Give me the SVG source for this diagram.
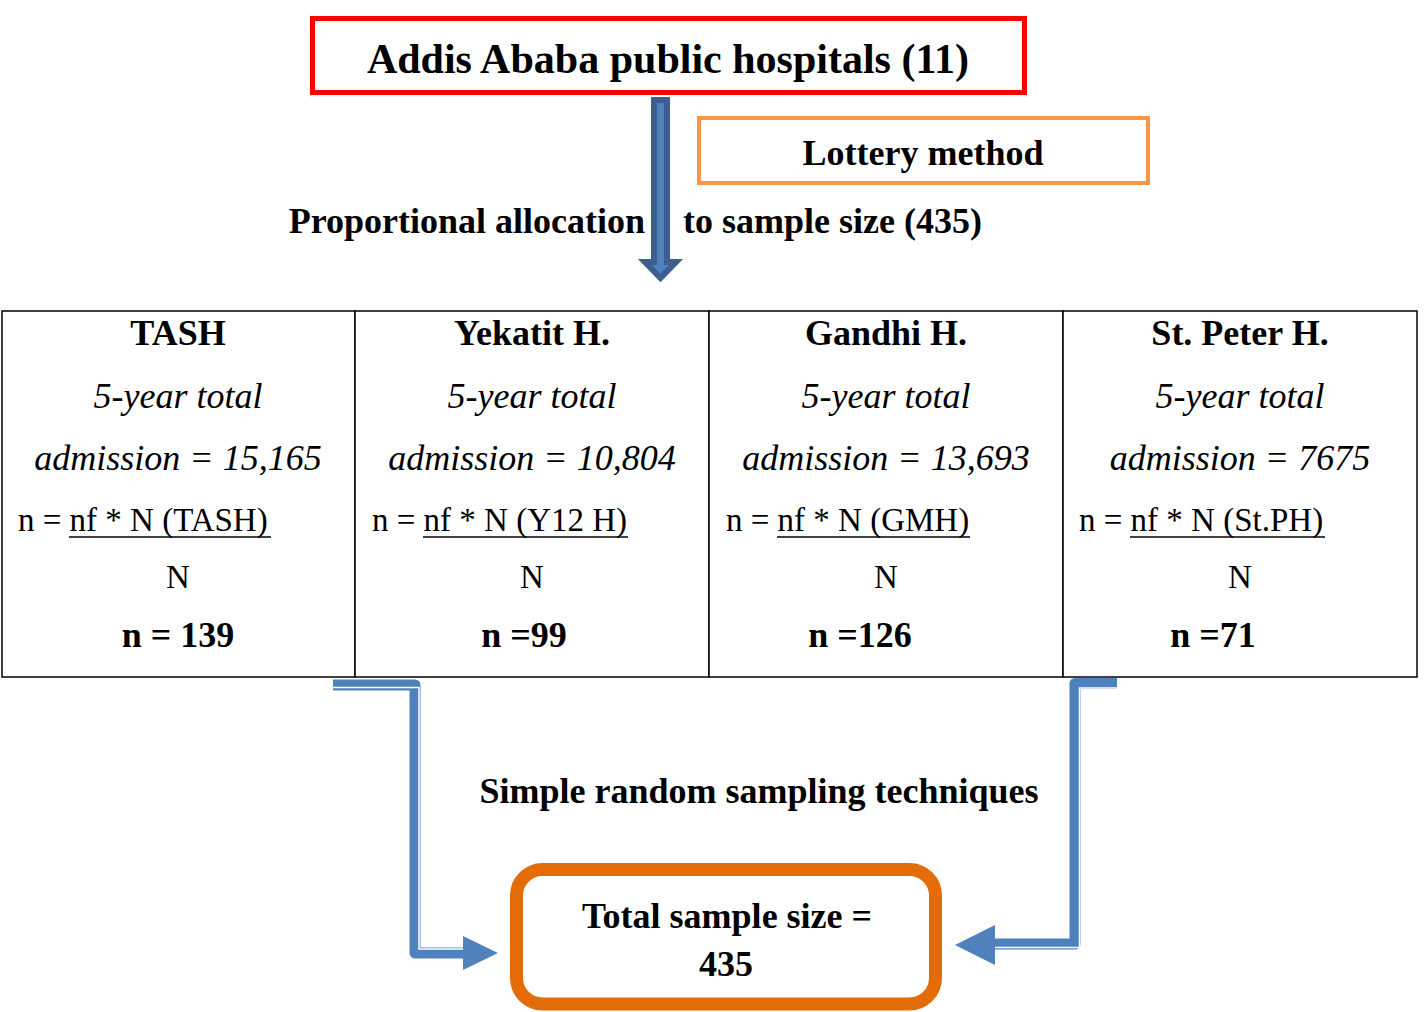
<svg xmlns="http://www.w3.org/2000/svg" width="1424" height="1012" viewBox="0 0 1424 1012">
<style>
text{font-family:"Liberation Serif","Times New Roman",serif;fill:#000}
.b{font-weight:bold;font-size:36px}
.t{font-weight:bold;font-size:42px}
.i{font-style:italic;font-size:36px}
.r{font-size:33px}
.c{text-anchor:middle}
.cell{fill:#fff;stroke:#000;stroke-width:1.5}
.ul{stroke:#000;stroke-width:1.5}
.band{fill:none;stroke:#4F81BD;stroke-width:11;stroke-linejoin:round}
.gap{fill:none;stroke:#fff;stroke-width:1.5}
.head{fill:#4F81BD}
</style>
<rect width="1424" height="1012" fill="#fff"/>
<g id="connectors">
<g id="down-arrow">
<polygon points="654,100 667,100 667,262 676,262 660.5,278 645,262 654,262" fill="#4F81BD" stroke="#3C5F8F" stroke-width="6" stroke-linejoin="miter"/>
</g>
<text class="b" x="645" y="233" text-anchor="end">Proportional allocation</text>
<text class="b" x="683" y="233">to sample size (435)</text>
<g id="left-arrow">
<path class="band" d="M333 685 H415 V953 H466"/>
<path class="gap" d="M333 687.5 H419 V949 H466"/>
<polygon class="head" points="463,936 498,953 463,970"/>
</g>
<g id="right-arrow">
<path class="band" d="M1117 683.5 H1075 V944 H992"/>
<path class="gap" d="M1117 688 H1079.5 V947.5 H992"/>
<polygon class="head" points="995,925 955,945 995,965"/>
</g>
<text class="b c" x="759" y="803">Simple random sampling techniques</text>
</g>
<g id="title">
<rect x="312.5" y="18.5" width="712" height="74" fill="#fff" stroke="#FF0000" stroke-width="5"/>
<text class="t c" x="668" y="73">Addis Ababa public hospitals (11)</text>
</g>
<g id="lottery">
<rect x="699" y="118" width="449" height="65" fill="#fff" stroke="#F79646" stroke-width="4"/>
<text class="b c" x="923" y="165">Lottery method</text>
</g>
<g id="tash">
<rect class="cell" x="2" y="311" width="353" height="366"/>
<text class="b c" x="178" y="345">TASH</text>
<text class="i c" x="178" y="408">5-year total</text>
<text class="i c" x="178" y="470">admission = 15,165</text>
<text class="r" x="18" y="531">n = nf * N (TASH)</text>
<line class="ul" x1="69" y1="537" x2="271" y2="537"/>
<text class="r c" x="178" y="588">N</text>
<text class="b c" x="178" y="647">n = 139</text>
</g>
<g id="yekatit">
<rect class="cell" x="355" y="311" width="354" height="366"/>
<text class="b c" x="532" y="345">Yekatit H.</text>
<text class="i c" x="532" y="408">5-year total</text>
<text class="i c" x="532" y="470">admission = 10,804</text>
<text class="r" x="372" y="531">n = nf * N (Y12 H)</text>
<line class="ul" x1="423" y1="537" x2="628" y2="537"/>
<text class="r c" x="532" y="588">N</text>
<text class="b c" x="524" y="647">n =99</text>
</g>
<g id="gandhi">
<rect class="cell" x="709" y="311" width="354" height="366"/>
<text class="b c" x="886" y="345">Gandhi H.</text>
<text class="i c" x="886" y="408">5-year total</text>
<text class="i c" x="886" y="470">admission = 13,693</text>
<text class="r" x="726" y="531">n = nf * N (GMH)</text>
<line class="ul" x1="777" y1="537" x2="970" y2="537"/>
<text class="r c" x="886" y="588">N</text>
<text class="b c" x="860" y="647">n =126</text>
</g>
<g id="stpeter">
<rect class="cell" x="1063" y="311" width="354" height="366"/>
<text class="b c" x="1240" y="345">St. Peter H.</text>
<text class="i c" x="1240" y="408">5-year total</text>
<text class="i c" x="1240" y="470">admission = 7675</text>
<text class="r" x="1079" y="531">n = nf * N (St.PH)</text>
<line class="ul" x1="1130" y1="537" x2="1325" y2="537"/>
<text class="r c" x="1240" y="588">N</text>
<text class="b c" x="1213" y="647">n =71</text>
</g>
<g id="total">
<rect x="516.5" y="869.5" width="419" height="134.5" rx="26" fill="#fff" stroke="#E36C09" stroke-width="13"/>
<text class="b c" x="727" y="928">Total sample size =</text>
<text class="b c" x="726" y="976">435</text>
</g>
</svg>
